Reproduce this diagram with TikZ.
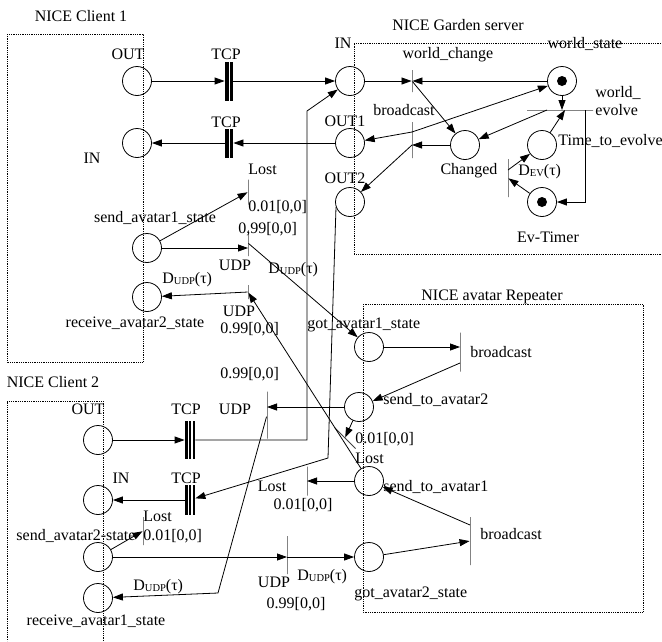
\documentclass[tikz,border=0pt]{standalone}
\usepackage{fontspec}
\setmainfont{Liberation Serif}
\usetikzlibrary{arrows.meta}

\newcommand\Dudp{D\raisebox{-1.5pt}{\fontsize{10.5}{10.5}\selectfont UDP}(τ)}
\newcommand\Dev{D\raisebox{-1.5pt}{\fontsize{10.5}{10.5}\selectfont EV}(τ)}

\tikzset{
  place/.style={circle, draw, line width=0.8pt, minimum size=29pt, inner sep=0pt},
  token/.style={place, path picture={\fill (path picture bounding box.center) circle (5pt);}},
  trans/.style={draw=black!75, line width=0.9pt, inner sep=0pt, minimum width=0pt, minimum height=#1},
  htrans/.style={draw=black!75, line width=0.9pt, inner sep=0pt, minimum height=0pt, minimum width=#1},
  tcpbar/.style={fill=black, inner sep=0pt, minimum width=8pt, minimum height=#1,
    path picture={\draw[white, line width=1pt] (path picture bounding box.north) -- (path picture bounding box.south);}},
  tcpbar3/.style={fill=black, inner sep=0pt, minimum width=10pt, minimum height=#1,
    path picture={\draw[white, line width=1.2pt] ([xshift=-1.9pt]path picture bounding box.north) -- ([xshift=-1.9pt]path picture bounding box.south);
                  \draw[white, line width=1.2pt] ([xshift=1.9pt]path picture bounding box.north) -- ([xshift=1.9pt]path picture bounding box.south);}},
  lbl/.style={inner sep=0pt},
  frame/.style={densely dotted, line width=0.8pt}
}

\begin{document}
\begin{tikzpicture}[x=1pt, y=-1pt, >={Triangle[length=10pt,width=7pt]}, line width=0.8pt,
    every node/.style={font=\fontsize{16}{18}\selectfont}]
  \useasboundingbox (0,0) rectangle (662,641);

  % dotted frames
  \draw[frame] (7,34) rectangle (143,362);
  \draw[frame] (103,641) -- (103,401) -- (7,401) -- (7,641);
  \draw[frame] (661,43) -- (354,43) -- (354,254) -- (661,254);
  \draw[frame] (363,304) rectangle (643,612);

  \node[lbl, anchor=base] (lc1) at (81,21) {NICE Client 1};
  \node[lbl, anchor=base] (lsrv) at (458,30) {NICE Garden server};
  \node[lbl, anchor=base] (lc2) at (53,387) {NICE Client 2};
  \node[lbl, anchor=base] (lrep) at (492,300) {NICE avatar Repeater};

  % places
  \node[place] (c1out) at (137,81) {};
  \node[place] (c1in) at (137,143) {};
  \node[place] (c1send) at (147,248) {};
  \node[place] (c1recv) at (147,297) {};
  \node[place] (sin) at (350,81) {};
  \node[place] (sout1) at (350,143) {};
  \node[place] (sout2) at (350,202) {};
  \node[token] (wstate) at (562,81) {};
  \node[place] (changed) at (465,145) {};
  \node[place] (tte) at (542,145) {};
  \node[token] (evtimer) at (542,202) {};
  \node[place] (got1) at (369,347) {};
  \node[place] (sta2) at (359,407) {};
  \node[place] (sta1) at (369,481) {};
  \node[place] (got2) at (369,557) {};
  \node[place] (c2out) at (98,440) {};
  \node[place] (c2in) at (98,500) {};
  \node[place] (c2send) at (98,557) {};
  \node[place] (c2recv) at (98,598) {};

  % transitions
  \node[tcpbar=39pt] (tcp1) at (229,81) {};
  \node[tcpbar=29pt] (tcp2) at (229,143) {};
  \node[trans=22pt] (wchange) at (412,81) {};
  \node[htrans=66pt] (wevolve) at (560,110) {};
  \node[trans=36pt] (sbroad) at (412,140) {};
  \node[trans=38pt] (dev) at (508,178) {};
  \node[trans=25pt] (c1lost) at (248,192) {};
  \node[trans=26pt] (c1udp1) at (248,243) {};
  \node[trans=14pt] (c1udp2) at (248,292) {};
  \node[trans=39pt] (rbroad1) at (460,352) {};
  \node[trans=30pt, rotate=45] (rlost) at (345,438) {};
  \node[trans=48pt] (rbroad2) at (470,541) {};
  \node[trans=47pt] (c2udpr) at (267,415) {};
  \node[trans=29pt] (c2lost2) at (307,481) {};
  \node[tcpbar3=38pt] (c2tcp1) at (190,440) {};
  \node[tcpbar3=30pt] (c2tcp2) at (190,500) {};
  \node[trans=28pt] (c2lost) at (143,531) {};
  \node[trans=38pt] (c2udps) at (287,555) {};
  \coordinate (k1) at (307,111);
  \coordinate (k2) at (328,458);
  \coordinate (k3) at (218,593);

  % client 1 <-> server
  \draw[->] (c1out) -- (tcp1);
  \draw[->] (tcp1) -- (sin);
  \draw[->] (sout1) -- (tcp2);
  \draw[->] (tcp2) -- (c1in);

  % server
  \draw[->] (sin) -- (wchange);
  \draw[->] (wstate) -- (wchange);
  \draw[->] (wchange) -- (changed);
  \draw[->] (wstate) -- (wstate |- wevolve);
  \draw[->] ([xshift=-13pt]wevolve.center) -- (changed);
  \draw[->] (tte) -- ([xshift=5pt]wevolve.center);
  \draw[->] ([xshift=-8pt]wevolve.east) |- (evtimer);
  \draw[->] (evtimer) -- (dev);
  \draw[->] ([yshift=8pt]dev.center) -- (tte);
  \draw[->] (changed) -- (changed -| sbroad);
  \draw[<->] (sout1) -- ([yshift=8pt]sbroad.center) -- (wstate);
  \draw[->] (changed -| sbroad) -- (sout2);

  % client 1
  \draw[->] (c1send) -- (c1lost);
  \draw[->] (c1send) -- (c1send -| c1udp1);
  \draw[->] (c1udp2) -- (c1recv);
  \draw[->] (c1udp1) -- (got1);
  \draw[->] (sta1) -- (c1udp2);

  % repeater
  \draw[->] (got1) -- (got1 -| rbroad1);
  \draw[->] ([yshift=-11pt]rbroad1.center) -- (sta2);
  \draw[->] (got2) -- (rbroad2);
  \draw[->] ([yshift=16pt]rbroad2.center) -- (sta1);
  \draw[->] (sta2) -- (sta2 -| c2udpr);
  \draw[->] (sta2) -- (rlost);
  \draw[->] (sta1) -- (sta1 -| c2lost2);

  % client 2
  \draw[->] (c2out) -- (c2tcp1);
  \draw[->] (c2tcp1) -| (k1) -- (sin);
  \draw[->] (sout2.200) -- (k2) -- (c2tcp2);
  \draw[->] (c2tcp2) -- (c2in);
  \draw[->] (c2send) -- (c2lost);
  \draw[->] (c2send) -- (c2send -| c2udps);
  \draw[->] (c2send -| c2udps) -- (got2);
  \draw[->] (c2udpr) -- (k3) -- (c2recv);

  % labels client 1
  \node[lbl, anchor=base] (lc1out) at (128,59) {OUT};
  \node[lbl, anchor=base] (ltcp1) at (226,59) {TCP};
  \node[lbl, anchor=base] (ltcp2) at (226,127) {TCP};
  \node[lbl, anchor=base] (lc1in) at (92,163) {IN};
  \node[lbl, anchor=base west] (lc1lost) at (248,174) {Lost};
  \node[lbl, anchor=base west] (lc1p1) at (248,211) {0.01[0,0]};
  \node[lbl, anchor=base west] (lc1p2) at (238,233) {0,99[0,0]};
  \node[lbl, anchor=base] (lc1send) at (155,222) {send\_avatar1\_state};
  \node[lbl, anchor=base] (lc1udp1) at (235,270) {UDP};
  \node[lbl, anchor=base west] (lc1d1) at (268,273) {\Dudp};
  \node[lbl, anchor=base west] (lc1d2) at (162,283) {\Dudp};
  \node[lbl, anchor=base] (lc1udp2) at (239,316) {UDP};
  \node[lbl, anchor=base west] (lc1p3) at (220,333) {0.99[0,0]};
  \node[lbl, anchor=base] (lc1recv) at (135,327) {receive\_avatar2\_state};

  % labels server
  \node[lbl, anchor=base] (lsin) at (343,48) {IN};
  \node[lbl, anchor=base] (lwch) at (448,58) {world\_change};
  \node[lbl, anchor=base] (lwst) at (585,48) {world\_state};
  \node[lbl, anchor=north west, align=left] (lwev) at (595,86) {world\_\\evolve};
  \node[lbl, anchor=base] (lsbr) at (404,115) {broadcast};
  \node[lbl, anchor=base] (lout1) at (345,126) {OUT1};
  \node[lbl, anchor=base] (lout2) at (345,183) {OUT2};
  \node[lbl, anchor=base] (lchg) at (469,174) {Changed};
  \node[lbl, anchor=base west] (ltte) at (558,145) {Time\_to\_evolve};
  \node[lbl, anchor=base west] (ldev) at (518,175) {\Dev};
  \node[lbl, anchor=base] (levt) at (548,242) {Ev-Timer};

  % labels repeater
  \node[lbl, anchor=base west] (lgot1) at (307,328) {got\_avatar1\_state};
  \node[lbl, anchor=base west] (lrb1) at (470,357) {broadcast};
  \node[lbl, anchor=base west] (lsta2) at (383,404) {send\_to\_avatar2};
  \node[lbl, anchor=base west] (lrlp) at (355,443) {0.01[0,0]};
  \node[lbl, anchor=base west] (lrl) at (355,463) {Lost};
  \node[lbl, anchor=base west] (lsta1) at (383,491) {send\_to\_avatar1};
  \node[lbl, anchor=base west] (lrb2) at (480,539) {broadcast};
  \node[lbl, anchor=base west] (lgot2) at (354,597) {got\_avatar2\_state};

  % labels client 2
  \node[lbl, anchor=base west] (lc2p1) at (220,378) {0.99[0,0]};
  \node[lbl, anchor=base] (lc2out) at (88,414) {OUT};
  \node[lbl, anchor=base] (lc2tcp1) at (186,414) {TCP};
  \node[lbl, anchor=base] (lc2udpr) at (235,414) {UDP};
  \node[lbl, anchor=base] (lc2l2) at (272,491) {Lost};
  \node[lbl, anchor=base] (lc2l2p) at (303,509) {0.01[0,0]};
  \node[lbl, anchor=base] (lc2in) at (121,483) {IN};
  \node[lbl, anchor=base] (lc2tcp2) at (186,483) {TCP};
  \node[lbl, anchor=base west] (lc2lost) at (143,521) {Lost};
  \node[lbl, anchor=base] (lc2send) at (76,540) {send\_avatar2-state};
  \node[lbl, anchor=base west] (lc2lp) at (143,540) {0.01[0,0]};
  \node[lbl, anchor=base] (lc2udps) at (274,587) {UDP};
  \node[lbl, anchor=base west] (lc2d1) at (297,580) {\Dudp};
  \node[lbl, anchor=base west] (lc2d2) at (133,590) {\Dudp};
  \node[lbl, anchor=base] (lc2p2) at (296,608) {0.99[0,0]};
  \node[lbl, anchor=base] (lc2recv) at (96,625) {receive\_avatar1\_state};
\end{tikzpicture}
\end{document}
